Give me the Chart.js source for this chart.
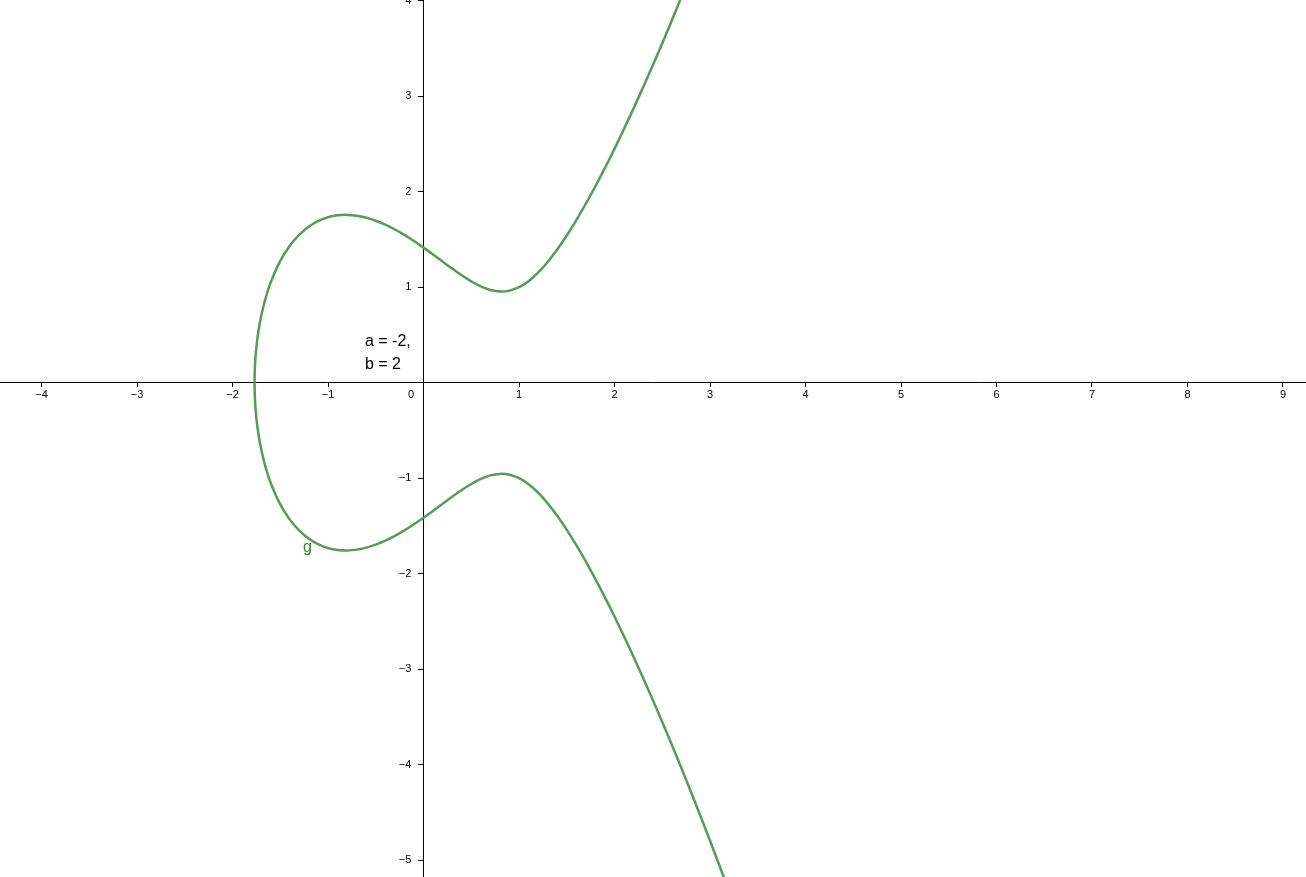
<!DOCTYPE html>
<html>
<head>
<meta charset="utf-8">
<title>y² = x³ + ax + b</title>
<script src="https://cdn.jsdelivr.net/npm/chart.js@4.4.1/dist/chart.umd.min.js"></script>
<style>
  html, body { margin: 0; padding: 0; background: #fff; }
  #wrap { width: 1306px; height: 877px; position: relative; }
</style>
</head>
<body>
<div id="wrap"><canvas id="curveChart"></canvas></div>
<script>
// visible window of the graphics view
const xMin = -4.435, xMax = 9.241;
const yMin = -5.176, yMax = 4.007;

// points of curve g, going from the bottom right,
// round the left end and up to the top right
const curveX = [
  3.2, 3.0, 2.8, 2.6, 2.4, 2.2, 2.0, 1.9, 1.8, 1.7, 1.6, 1.5, 1.4, 1.3, 1.2, 1.1, 1.0,
  0.9, 0.8, 0.7, 0.6, 0.5, 0.4, 0.3, 0.2, 0.1, 0, -0.1, -0.2, -0.3, -0.4, -0.5, -0.6,
  -0.7, -0.8, -0.9, -1.0, -1.1, -1.2, -1.3, -1.4, -1.5, -1.6, -1.65, -1.7, -1.73, -1.75,
  -1.76, -1.767,
  -1.7693,
  -1.767, -1.76, -1.75, -1.73, -1.7, -1.65, -1.6, -1.5, -1.4, -1.3, -1.2, -1.1, -1.0,
  -0.9, -0.8, -0.7, -0.6, -0.5, -0.4, -0.3, -0.2, -0.1, 0, 0.1, 0.2, 0.3, 0.4, 0.5, 0.6,
  0.7, 0.8, 0.9, 1.0, 1.1, 1.2, 1.3, 1.4, 1.5, 1.6, 1.7, 1.8, 1.9, 2.0, 2.2, 2.4, 2.6, 2.8
];
const curveY = [
  -5.326, -4.796, -4.284, -3.792, -3.320, -2.872, -2.449, -2.249, -2.057, -1.874, -1.702, -1.541, -1.394, -1.264, -1.152, -1.063, -1.000,
  -0.964, -0.955, -0.971, -1.008, -1.061, -1.124, -1.195, -1.268, -1.342, -1.414, -1.483, -1.547, -1.604, -1.654, -1.696, -1.727,
  -1.748, -1.757, -1.752, -1.732, -1.694, -1.635, -1.550, -1.434, -1.275, -1.051, -0.899, -0.698, -0.531, -0.375,
  -0.261, -0.130,
  0,
  0.130, 0.261, 0.375, 0.531, 0.698, 0.899, 1.051, 1.275, 1.434, 1.550, 1.635, 1.694, 1.732,
  1.752, 1.757, 1.748, 1.727, 1.696, 1.654, 1.604, 1.547, 1.483, 1.414, 1.342, 1.268, 1.195, 1.124, 1.061, 1.008,
  0.971, 0.955, 0.964, 1.000, 1.063, 1.152, 1.264, 1.394, 1.541, 1.702, 1.874, 2.057, 2.249, 2.449, 2.872, 3.320, 3.792, 4.284
];

// text placed in the view (data coordinates)
const labels = [
  { text: "a = -2,", x: -0.613, y: 0.426, color: "#000000", size: 16 },
  { text: "b = 2", x: -0.613, y: 0.185, color: "#000000", size: 16 },
  { text: "g", x: -1.262, y: -1.732, color: "#2e8b2e", size: 16 },
  { text: "0", x: -0.162, y: -0.129, color: "#000000", size: 11 }
];

const fontFamily = 'Arial, "Liberation Sans", sans-serif';
const curveColor = "#579b57";

function tickText(v) {
  if (v === 0) return "";
  return String(v).replace("-", "\u2212");
}

// centred y axis labels sit right on the axis, so pad them with spaces
function yTickText(v) {
  if (v === 0) return "";
  return tickText(v) + "    ";
}

const textPlugin = {
  id: "viewText",
  afterDraw(chart) {
    const ctx = chart.ctx;
    const xs = chart.scales.x, ys = chart.scales.y;
    ctx.save();
    ctx.textAlign = "left";
    ctx.textBaseline = "middle";
    labels.forEach(l => {
      ctx.font = l.size + "px " + fontFamily;
      ctx.fillStyle = l.color;
      ctx.fillText(l.text, xs.getPixelForValue(l.x), ys.getPixelForValue(l.y));
    });
    ctx.restore();
  }
};

const chart = new Chart(document.getElementById("curveChart"), {
  type: "scatter",
  data: {
    datasets: [{
      label: "g",
      data: curveX.map((x, i) => ({ x: x, y: curveY[i] })),
      showLine: true,
      borderColor: curveColor,
      borderWidth: 2.5,
      pointRadius: 0,
      tension: 0.4,
      fill: false
    }]
  },
  options: {
    responsive: true,
    maintainAspectRatio: false,
    animation: false,
    layout: { padding: 0 },
    plugins: { legend: { display: false }, tooltip: { enabled: false } },
    scales: {
      x: {
        type: "linear",
        min: xMin,
        max: xMax,
        position: { y: 0 },
        afterFit: s => { s.height = 0; s.paddingLeft = 0; s.paddingRight = 0; },
        border: { display: true, color: "#000", width: 1 },
        grid: { drawOnChartArea: false, drawTicks: true, tickLength: 4, color: "#000", lineWidth: 1 },
        ticks: {
          stepSize: 1, includeBounds: false, autoSkip: false, maxRotation: 0,
          padding: 2, color: "#000", font: { family: fontFamily, size: 11 },
          callback: tickText
        }
      },
      y: {
        type: "linear",
        min: yMin,
        max: yMax,
        position: { x: 0 },
        afterFit: s => { s.width = 0; s.paddingTop = 0; s.paddingBottom = 0; },
        border: { display: true, color: "#000", width: 1 },
        grid: { drawOnChartArea: false, drawTicks: true, tickLength: 5, color: "#000", lineWidth: 1 },
        ticks: {
          stepSize: 1, includeBounds: false, autoSkip: false,
          color: "#000", font: { family: fontFamily, size: 11 },
          callback: yTickText
        }
      }
    }
  },
  plugins: [textPlugin]
});
</script>
</body>
</html>
